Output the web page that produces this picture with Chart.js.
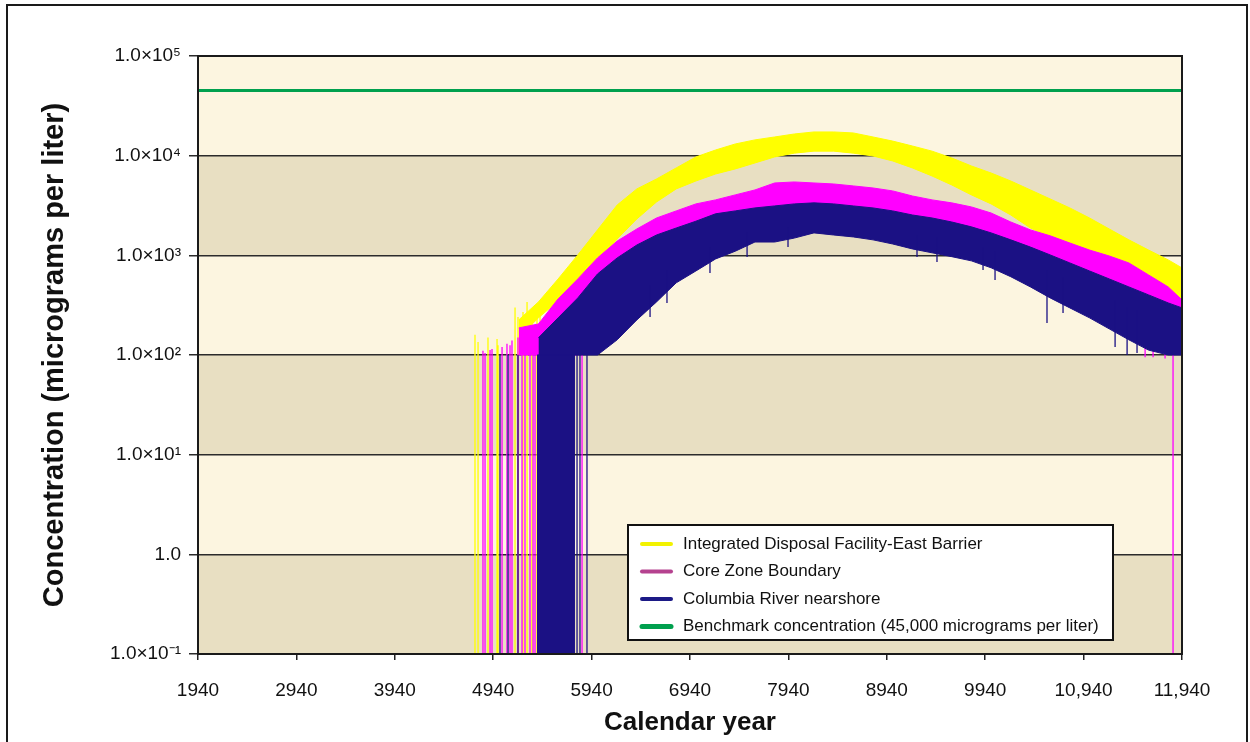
<!DOCTYPE html>
<html>
<head>
<meta charset="utf-8">
<script src="https://cdn.jsdelivr.net/npm/chart.js@4.4.0/dist/chart.umd.min.js"></script>
<style>
  html, body { margin: 0; padding: 0; background: #fff; }
  #wrap { width: 1250px; height: 742px; }
</style>
</head>
<body>
<div id="wrap"><canvas id="chart" width="1250" height="742"></canvas></div>
<script>
// --- data ---
const seriesNames = [
  'Integrated Disposal Facility-East Barrier',
  'Core Zone Boundary',
  'Columbia River nearshore',
  'Benchmark concentration (45,000 micrograms per liter)'
]

const xTickValues = [1940, 2940, 3940, 4940, 5940, 6940, 7940, 8940, 9940, 10940, 11940]
const xTickLabels = ['1940', '2940', '3940', '4940', '5940', '6940', '7940', '8940', '9940', '10,940', '11,940']
const yTickValues = [0.1, 1, 10, 100, 1000, 10000, 100000]
const yTickLabels = ['1.0\u00d710\u207b\u00b9', '1.0', '1.0\u00d710\u00b9', '1.0\u00d710\u00b2', '1.0\u00d710\u00b3', '1.0\u00d710\u2074', '1.0\u00d710\u2075']

// upper / lower edge of each noisy band (micrograms per liter)
const idfYears = [5200, 5400, 5600, 5800, 6000, 6200, 6400, 6600, 6800, 7000, 7200, 7400, 7600, 7800, 8000, 8200, 8400, 8600, 8800, 9000, 9200, 9400, 9600, 9800, 10000, 10200, 10400, 10600, 10800, 11000, 11200, 11400, 11600, 11800, 11940]
const idfHigh = [225, 341, 580, 1010, 1800, 3200, 4640, 5840, 7530, 9710, 11400, 13100, 14400, 15400, 16500, 17300, 17300, 16900, 15400, 14000, 12500, 11100, 9480, 7880, 6700, 5570, 4530, 3680, 2990, 2370, 1840, 1430, 1130, 900, 748]
const idfLow = [150, 236, 349, 482, 859, 1460, 2320, 3430, 4640, 5570, 6550, 7360, 8450, 9710, 10600, 11100, 11100, 10600, 9930, 8850, 7530, 6250, 5080, 4040, 3280, 2540, 1880, 1530, 1270, 1080, 859, 580, 450, 341, 283]

const coreYears = [5200, 5400, 5600, 5800, 6000, 6200, 6400, 6600, 6800, 7000, 7200, 7400, 7600, 7800, 8000, 8200, 8400, 8600, 8800, 9000, 9200, 9400, 9600, 9800, 10000, 10200, 10400, 10600, 10800, 11000, 11200, 11400, 11600, 11800, 11940]
const coreHigh = [187, 205, 366, 580, 942, 1390, 1840, 2370, 2790, 3280, 3600, 4040, 4530, 5320, 5450, 5320, 5200, 4970, 4740, 4430, 3940, 3600, 3360, 3060, 2660, 2160, 1800, 1570, 1330, 1130, 986, 839, 636, 482, 357]
const coreLow = [100, 100, 100, 100, 357, 636, 942, 1190, 1430, 1680, 1880, 2070, 2260, 2490, 2610, 2610, 2490, 2370, 2200, 2020, 1840, 1680, 1490, 1300, 1130, 942, 783, 650, 530, 430, 341, 253, 179, 126, 107]

const riverYears = [5400, 5600, 5800, 6000, 6200, 6400, 6600, 6800, 7000, 7200, 7400, 7600, 7800, 8000, 8200, 8400, 8600, 8800, 9000, 9200, 9400, 9600, 9800, 10000, 10200, 10400, 10600, 10800, 11000, 11200, 11400, 11600, 11800, 11940]
const riverHigh = [149, 236, 374, 650, 942, 1270, 1600, 1880, 2200, 2610, 2790, 2990, 3130, 3280, 3360, 3280, 3130, 2990, 2790, 2540, 2370, 2160, 1930, 1680, 1430, 1210, 1010, 839, 697, 580, 482, 401, 333, 297]
const riverLow = [100, 100, 100, 100, 142, 225, 341, 530, 697, 920, 1100, 1360, 1360, 1490, 1680, 1600, 1530, 1430, 1300, 1160, 1060, 970, 880, 750, 610, 482, 374, 297, 236, 183, 142, 112, 100, 100]

// years where a series drops to zero (below the axis), with the value it drops from
const idfDropYears = [4755, 4786, 4887, 4979, 4989, 5162, 5192, 5243, 5284, 5334, 5385, 5416]
const idfDropTops = [160, 135, 150, 145, 125, 300, 240, 270, 340, 290, 320, 300]
const coreDropYears = [4836, 4857, 4908, 4928, 5030, 5080, 5111, 5131, 5192, 5233, 5263, 5314, 5345, 5365, 5416, 5467, 5538, 5843, 11849]
const coreDropTops = [110, 105, 112, 115, 120, 130, 125, 140, 150, 160, 180, 175, 200, 190, 210, 240, 300, 110, 300]
const riverDropYears = [5009, 5091, 5192, 5792, 5822, 5893]
const riverDropTops = [100, 100, 100, 100, 100, 100]
const riverZeroSpan = [5385, 5771]   // near-continuous drops to zero

// single downward spikes below a band: year, value inside band, lowest value
const riverDipYears = [6534, 6706, 7143, 7520, 7936, 9247, 9450, 9918, 10040, 10568, 10731, 11260, 11382, 11483]
const riverDipFrom = [500, 700, 1200, 1700, 1900, 1600, 1500, 1200, 1100, 700, 600, 350, 300, 280]
const riverDipTo = [241, 333, 666, 964, 1214, 964, 859, 714, 566, 210, 264, 120, 100, 105]
const coreDipYears = [11565, 11646, 11768]
const coreDipFrom = [400, 380, 330]
const coreDipTo = [95, 95, 92]

const benchmark = 45000

// --- helpers ---
const toPoints = (xs, ys) => xs.map((x, i) => ({x: x, y: ys[i]}))
function segPoints(years, tops, bottoms) {
    const pts = []
    years.forEach((yr, i) => {
        pts.push({x: yr, y: tops[i]}, {x: yr, y: bottoms[i]}, {x: yr, y: null})
    })
    return pts
}

const colors = ['#ffff00', '#ff00ff', '#1b1184', '#00a04e']
const legendColors = ['#f2f200', '#b5428f', '#1c1a86', '#00a04e']

const datasets = []
function addBand(xs, hi, lo, color, order) {
    const lowIndex = datasets.length
    datasets.push({data: toPoints(xs, lo), borderColor: color, borderWidth: 1, pointRadius: 0, fill: false, order: order})
    datasets.push({data: toPoints(xs, hi), borderColor: color, borderWidth: 1, pointRadius: 0,
        backgroundColor: color, fill: {target: lowIndex}, order: order})
}
function addSegments(years, tops, bottoms, color, order) {
    datasets.push({data: segPoints(years, tops, bottoms), borderColor: color, borderWidth: 1.3, pointRadius: 0,
        spanGaps: false, fill: false, order: order})
}

addSegments(idfDropYears, idfDropTops, idfDropYears.map(() => 0.01), colors[0], 3)
addBand(idfYears, idfHigh, idfLow, colors[0], 3)
addSegments(coreDropYears, coreDropTops, coreDropYears.map(() => 0.01), colors[1], 2)
addSegments(coreDipYears, coreDipFrom, coreDipTo, colors[1], 2)
addBand(coreYears, coreHigh, coreLow, colors[1], 2)
addSegments(riverDropYears, riverDropTops, riverDropYears.map(() => 0.01), colors[2], 1)
addSegments(riverDipYears, riverDipFrom, riverDipTo, colors[2], 1)
datasets.push({data: toPoints(riverZeroSpan, [100, 100]), borderColor: colors[2], borderWidth: 1,
    backgroundColor: colors[2], pointRadius: 0, fill: 'start', order: 1})
addBand(riverYears, riverHigh, riverLow, colors[2], 1)
datasets.push({data: toPoints([xTickValues[0], xTickValues[xTickValues.length - 1]], [benchmark, benchmark]),
    borderColor: colors[3], borderWidth: 3, pointRadius: 0, fill: false, order: 0})

// alternating decade bands behind the plot
const bandPlugin = {
    id: 'bands',
    beforeDraw(chart) {
        const ctx = chart.ctx, ca = chart.chartArea, y = chart.scales.y
        ctx.save()
        for (let i = 0; i < yTickValues.length - 1; i++) {
            const top = y.getPixelForValue(yTickValues[i + 1])
            const bot = y.getPixelForValue(yTickValues[i])
            ctx.fillStyle = (i % 2 === 0) ? '#e8dfc2' : '#fcf5e0'
            ctx.fillRect(ca.left, top, ca.right - ca.left, bot - top)
        }
        ctx.restore()
    }
}

// plot frame, page frame and the boxed legend
const framePlugin = {
    id: 'frame',
    afterDraw(chart) {
        const ctx = chart.ctx, ca = chart.chartArea
        ctx.save()
        ctx.strokeStyle = '#1a1a1a'
        ctx.lineWidth = 2
        ctx.strokeRect(ca.left, ca.top, ca.right - ca.left, ca.bottom - ca.top)
        ctx.strokeRect(7, 5, 1240, 760)

        // legend
        const lx = ca.right - 554, ly = ca.bottom - 129, lw = 485, lh = 115
        ctx.fillStyle = '#ffffff'
        ctx.fillRect(lx, ly, lw, lh)
        ctx.strokeStyle = '#111'
        ctx.lineWidth = 2
        ctx.strokeRect(lx, ly, lw, lh)
        ctx.font = "17px 'Liberation Sans', Arial, sans-serif"
        ctx.textBaseline = 'middle'
        ctx.lineCap = 'round'
        seriesNames.forEach((name, i) => {
            const yy = ly + 19 + i * 27.5
            ctx.strokeStyle = legendColors[i]
            ctx.lineWidth = i === 3 ? 5 : 4
            ctx.beginPath()
            ctx.moveTo(lx + 14, yy)
            ctx.lineTo(lx + 43, yy)
            ctx.stroke()
            ctx.fillStyle = '#111'
            ctx.fillText(name, lx + 55, yy)
        })
        ctx.restore()
    }
}

Chart.defaults.font.family = "'Liberation Sans', Arial, sans-serif"
Chart.defaults.color = '#111'

const ctx = document.getElementById('chart').getContext('2d')
new Chart(ctx, {
    type: 'line',
    data: {datasets: datasets},
    plugins: [bandPlugin, framePlugin],
    options: {
        responsive: false,
        animation: false,
        devicePixelRatio: 1,
        layout: {padding: {left: 38, top: 56, right: 68, bottom: 4}},
        plugins: {
            legend: {display: false},
            tooltip: {enabled: false}
        },
        scales: {
            x: {
                type: 'linear',
                min: 1940,
                max: 11940,
                afterBuildTicks: (scale) => { scale.ticks = xTickValues.map(v => ({value: v})) },
                afterFit: (scale) => { scale.height = 84 },
                ticks: {
                    autoSkip: false,
                    maxRotation: 0,
                    padding: 19,
                    font: {size: 19},
                    callback: (v, i) => xTickLabels[i]
                },
                grid: {drawOnChartArea: false, color: '#222', tickLength: 6, lineWidth: 1.5},
                border: {color: '#1a1a1a', width: 2},
                title: {display: true, text: 'Calendar year', font: {size: 26, weight: 'bold'}, padding: 0}
            },
            y: {
                type: 'logarithmic',
                min: 0.1,
                max: 100000,
                afterBuildTicks: (scale) => { scale.ticks = yTickValues.map(v => ({value: v})) },
                afterFit: (scale) => { scale.width = 160 },
                ticks: {
                    autoSkip: false,
                    padding: 8,
                    font: {size: 19},
                    callback: (v, i) => yTickLabels[i]
                },
                grid: {color: '#2b2b2b', lineWidth: 1.5, tickLength: 9},
                border: {color: '#1a1a1a', width: 2},
                title: {display: true, text: 'Concentration (micrograms per liter)', font: {size: 29, weight: 'bold'}, padding: 0}
            }
        }
    }
})
</script>
</body>
</html>
